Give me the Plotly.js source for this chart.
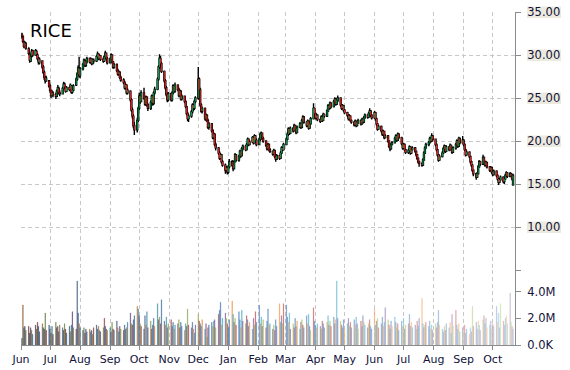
<!DOCTYPE html>
<html><head><meta charset="utf-8">
<script src="https://cdn.plot.ly/plotly-3.0.1.min.js"></script>
<style>html,body{margin:0;padding:0;background:#fff}#chart{width:570px;height:370px}</style>
</head><body><div id="chart"></div>
<script>
const symbol = 'RICE';
const firstTradingDay = '2014-06-02';

const openP = [
32.4,32.1,31.5,31.0,31.3, 30.7,30.1,29.3,29.9,30.5, 30.0,30.4,30.0,29.6,29.1, 29.3,28.6,28.0,27.4,27.0,
27.0,26.4,25.9,25.3,25.6, 25.4,25.2,25.8,26.1,25.6, 25.5,26.1,26.6,26.3,25.8, 26.2,26.0,26.4,25.7,25.9,
26.5,27.2,27.8,28.4,27.6, 28.4,28.9,29.3,28.8,29.2, 29.6,29.2,29.5,29.0,29.4, 29.3,29.8,30.1,29.6,29.9,
29.5,29.3,29.8,30.2,29.6, 29.1,29.5,30.0,29.2,28.6, 28.9,28.2,27.8,28.0,27.4, 27.1,26.8,26.2,26.5,25.6,
25.8,24.8,23.6,22.9,21.8, 21.3,22.4,23.8,25.2,24.6, 25.6,25.0,24.3,25.1,24.2, 23.8,24.5,25.2,24.4,25.6,
26.0,27.2,28.6,29.6,29.0, 28.1,27.0,26.2,25.4,24.8, 25.5,24.8,25.6,26.4,25.8, 26.5,26.0,25.3,25.8,24.9,
25.2,24.6,24.0,23.2,22.6, 22.9,23.4,24.2,23.8,24.6, 25.0,27.2,26.0,24.2,23.5, 23.8,22.6,23.0,22.4,21.6,
22.0,21.2,20.4,20.8,19.6, 19.2,18.6,18.0,18.4,17.6, 17.2,16.6,16.9,16.4,17.0, 17.6,17.2,16.8,17.6,18.4,
17.8,18.2,18.8,18.3,19.1, 19.4,19.0,19.6,20.2,19.6, 19.9,20.4,19.8,20.6,20.1, 19.6,20.2,20.8,20.9,20.3,
20.0,19.5,19.1,19.6,19.0, 18.8,18.5,18.9,18.2,17.9, 18.3,18.0,18.6,19.2,19.0, 19.6,20.2,20.8,21.4,20.9,
21.5,21.2,21.8,21.4,21.0, 21.6,22.0,21.6,22.4,22.8, 22.2,21.8,22.3,21.5,22.0, 22.6,23.8,23.2,22.7,23.0,
22.5,22.3,22.8,22.4,23.1, 22.9,23.5,24.1,23.8,24.4, 24.0,24.6,24.9,24.3,24.7, 25.0,24.2,23.8,24.1,23.6,
23.3,23.0,22.6,22.9,22.4, 22.2,21.9,22.3,21.8,22.1, 22.4,22.0,22.5,22.2,22.7, 23.0,22.8,23.2,23.5,23.0,
22.7,23.3,22.6,22.0,21.4, 21.7,21.2,20.8,21.1,20.4, 20.6,20.0,19.4,19.1,19.6, 19.8,20.3,20.6,20.1,20.8,
20.4,19.7,19.2,19.6,19.0, 18.7,18.9,19.3,18.6,19.0, 19.2,18.8,18.4,18.0,17.6, 17.4,17.2,17.8,18.6,19.2,
19.6,19.8,20.3,20.0,20.6, 20.2,19.6,19.0,18.4,17.8, 18.2,18.6,19.1,19.4,18.8, 19.3,19.0,19.5,19.1,18.7,
19.2,19.6,20.0,19.4,20.3, 19.8,20.1,19.6,19.0,18.4, 18.7,18.2,17.6,17.2,16.6, 16.2,15.8,16.2,17.0,17.6,
17.3,18.1,17.6,17.2,17.5, 17.0,16.6,16.9,16.4,16.1, 16.5,16.0,15.6,15.2,15.5, 15.8,15.3,15.6,16.0,16.3,
15.9,16.2,16.0,14.9];

const highP = [
32.6,32.3,31.7,31.6,31.5, 30.9,30.3,30.0,30.7,30.6, 30.7,30.6,30.2,29.8,29.7, 29.4,28.8,28.2,27.6,27.6,
27.1,26.6,26.0,25.9,25.8, 25.6,26.0,26.5,26.3,25.9, 26.3,26.9,26.8,26.4,26.4, 26.3,26.7,26.5,26.1,26.6,
27.4,28.0,28.8,29.8,28.6, 29.1,29.6,29.5,29.4,29.8, 29.7,29.7,29.6,29.6,29.6, 30.0,30.4,30.2,30.1,30.0,
29.7,30.0,30.5,30.3,29.8, 29.7,30.2,30.1,29.3,29.1, 29.0,28.4,28.2,28.1,27.6, 27.3,27.0,26.7,26.6,26.1,
25.9,25.0,23.9,23.1,22.2, 22.7,24.0,25.6,25.5,25.9, 26.2,25.1,25.3,25.2,24.4, 24.7,25.4,25.3,25.8,26.3,
27.4,28.8,30.1,29.9,29.2, 28.2,27.2,26.4,25.6,25.7, 25.6,25.8,26.6,26.5,26.8, 26.6,26.2,26.0,25.9,25.4,
25.3,24.7,24.1,23.4,23.1, 23.6,24.4,24.3,24.8,25.2, 28.6,27.4,26.2,24.4,24.0, 23.9,23.2,23.1,22.6,22.2,
22.1,21.4,21.0,20.9,19.8, 19.3,18.8,18.6,18.5,17.8, 17.4,17.1,17.0,17.2,17.9, 17.8,17.4,17.8,18.6,18.5,
18.4,19.0,18.9,19.3,19.6, 19.5,19.8,20.4,20.3,20.1, 20.6,20.5,20.8,20.7,20.3, 20.4,21.0,21.1,21.0,20.5,
20.1,19.7,19.8,19.7,19.2, 18.9,19.1,19.0,18.4,18.5, 18.4,18.8,19.4,19.3,19.8, 20.4,21.0,21.6,21.5,21.7,
21.6,22.0,21.9,21.5,21.8, 22.2,22.1,22.6,23.0,22.9, 22.3,22.5,22.4,22.2,22.8, 24.4,23.9,23.3,23.2,23.1,
22.6,23.0,22.9,23.3,23.2, 23.7,24.3,24.2,24.6,24.5, 24.8,25.1,25.0,24.9,25.3, 25.1,24.3,24.3,24.2,23.7,
23.4,23.1,23.1,23.0,22.5, 22.3,22.5,22.4,22.3,22.6, 22.5,22.7,22.6,22.9,23.2, 23.1,23.4,23.8,23.6,23.1,
23.5,23.4,22.7,22.1,21.9, 21.8,21.3,21.3,21.2,20.8, 20.7,20.1,19.5,19.8,20.0, 20.5,20.8,20.7,21.0,20.9,
20.5,19.8,19.8,19.7,19.1, 19.1,19.5,19.4,19.2,19.4, 19.3,18.9,18.5,18.1,17.7, 17.5,18.0,18.8,19.4,19.8,
20.0,20.5,20.4,20.9,20.7, 20.3,19.7,19.1,18.5,18.4, 18.8,19.3,19.6,19.5,19.5, 19.4,19.7,19.6,19.2,19.4,
19.8,20.2,20.1,20.5,20.4, 20.6,20.2,19.7,19.1,18.9, 18.8,18.3,17.7,17.3,16.7, 16.3,16.4,17.2,17.8,17.7,
18.4,18.2,17.7,17.7,17.6, 17.1,17.1,17.0,16.5,16.7, 16.6,16.1,15.7,15.7,16.0, 15.9,15.8,16.2,16.5,16.4,
16.4,16.3,16.1,16.2];

const lowP = [
31.9,31.4,30.8,30.9,30.6, 30.0,29.1,29.2,29.7,29.8, 29.9,29.9,29.4,28.9,28.9, 28.4,27.8,27.1,26.7,26.9,
26.2,25.6,25.0,25.2,25.1, 24.9,25.1,25.6,25.4,25.2, 25.4,26.0,26.1,25.6,25.7, 25.8,25.9,25.5,25.5,25.8,
26.4,27.0,27.6,27.4,27.3, 28.2,28.7,28.6,28.6,29.0, 29.0,29.0,28.8,28.9,29.0, 29.2,29.6,29.4,29.5,29.3,
29.1,29.2,29.7,29.4,28.9, 29.0,29.4,29.0,28.4,28.4, 28.0,27.6,27.6,27.2,26.9, 26.6,26.0,26.0,25.4,25.4,
24.6,23.4,22.6,21.5,20.7, 21.0,22.2,23.6,24.3,24.5, 24.8,24.1,24.1,24.0,23.5, 23.6,24.3,24.1,24.2,25.4,
25.9,27.0,28.4,28.7,27.9, 26.8,26.0,25.2,24.5,24.6, 24.6,24.6,25.4,25.6,25.6, 25.8,25.1,25.2,24.7,24.7,
24.4,23.8,23.0,22.3,22.2, 22.7,23.2,23.5,23.6,24.4, 24.8,25.8,24.0,23.3,23.2, 22.4,22.3,22.2,21.4,21.3,
21.0,20.2,20.2,19.4,18.9, 18.4,17.8,17.9,17.4,17.0, 16.2,16.4,16.1,16.2,16.8, 17.0,16.5,16.7,17.5,17.6,
17.6,18.0,18.1,18.2,18.9, 18.8,18.9,19.5,19.4,19.5, 19.8,19.6,19.7,19.9,19.4, 19.5,20.0,20.5,20.1,19.8,
19.3,18.9,19.0,18.8,18.6, 18.3,18.4,18.0,17.6,17.8, 17.8,17.9,18.5,18.8,18.9, 19.5,20.1,20.6,20.7,20.8,
21.0,21.1,21.2,20.8,20.9, 21.5,21.4,21.5,22.3,22.0, 21.6,21.7,21.3,21.4,21.9, 22.5,23.0,22.5,22.6,22.3,
22.1,22.2,22.2,22.3,22.7, 22.8,23.4,23.6,23.7,23.8, 23.9,24.5,24.1,24.2,24.5, 24.0,23.6,23.7,23.4,23.1,
22.8,22.4,22.5,22.2,22.0, 21.7,21.8,21.6,21.7,22.0, 21.8,21.9,22.0,22.1,22.6, 22.6,22.7,23.1,22.8,22.5,
22.6,22.4,21.8,21.2,21.3, 21.0,20.6,20.7,20.2,20.3, 19.8,19.2,18.8,19.0,19.5, 19.7,20.2,19.9,20.0,20.2,
19.5,19.0,19.1,18.8,18.5, 18.5,18.8,18.4,18.5,18.9, 18.6,18.2,17.8,17.4,17.0, 17.0,17.1,17.7,18.5,19.1,
19.4,19.7,19.8,19.9,20.0, 19.4,18.8,18.2,17.6,17.7, 18.1,18.5,19.0,18.6,18.7, 18.8,18.9,18.9,18.5,18.6,
19.0,19.5,19.2,19.3,19.6, 19.7,19.4,18.8,18.2,18.3, 18.0,17.4,17.0,16.4,15.9, 15.5,15.7,16.1,16.9,17.1,
17.2,17.4,17.0,17.1,16.8, 16.4,16.5,16.2,15.9,16.0, 15.8,15.4,14.9,15.1,15.4, 15.1,15.0,15.5,15.9,15.7,
15.8,15.8,15.4,14.8];

const closeP = [
32.2,31.6,31.0,31.4,30.8, 30.2,29.4,29.8,30.4,30.0, 30.5,30.1,29.6,29.2,29.5, 28.6,28.0,27.4,27.0,27.3,
26.4,25.9,25.3,25.6,25.4, 25.2,25.8,26.2,25.6,25.5, 26.1,26.6,26.3,25.8,26.2, 26.0,26.5,25.7,25.9,26.4,
27.2,27.8,28.5,27.6,28.4, 28.9,29.4,28.8,29.2,29.6, 29.2,29.5,29.0,29.4,29.3, 29.8,30.1,29.6,29.9,29.5,
29.3,29.8,30.2,29.6,29.1, 29.5,30.0,29.2,28.6,28.9, 28.2,27.8,28.0,27.4,27.1, 26.8,26.2,26.5,25.6,25.9,
24.8,23.6,22.9,21.8,21.3, 22.4,23.8,25.2,24.6,25.6, 25.0,24.3,25.1,24.2,23.8, 24.5,25.2,24.4,25.6,26.0,
27.2,28.6,29.6,29.0,28.1, 27.0,26.2,25.4,24.8,25.5, 24.8,25.6,26.4,25.8,26.5, 26.0,25.3,25.8,24.9,25.2,
24.6,24.0,23.2,22.6,22.9, 23.4,24.2,23.8,24.6,25.0, 27.2,26.0,24.2,23.5,23.8, 22.6,23.0,22.4,21.6,22.0,
21.2,20.4,20.8,19.6,19.2, 18.6,18.0,18.4,17.6,17.2, 16.6,16.9,16.4,17.0,17.6, 17.2,16.8,17.6,18.4,17.8,
18.2,18.8,18.3,19.1,19.4, 19.0,19.6,20.2,19.6,19.9, 20.4,19.8,20.6,20.1,19.6, 20.2,20.8,20.9,20.3,20.0,
19.5,19.1,19.6,19.0,18.8, 18.5,18.9,18.2,17.9,18.3, 18.0,18.6,19.2,19.0,19.6, 20.2,20.8,21.4,20.9,21.5,
21.2,21.8,21.4,21.0,21.6, 22.0,21.6,22.4,22.8,22.2, 21.8,22.3,21.5,22.0,22.6, 23.8,23.2,22.7,23.0,22.5,
22.3,22.8,22.4,23.1,22.9, 23.5,24.1,23.8,24.4,24.0, 24.6,24.9,24.3,24.7,25.0, 24.2,23.8,24.1,23.6,23.3,
23.0,22.6,22.9,22.4,22.2, 21.9,22.3,21.8,22.1,22.4, 22.0,22.5,22.2,22.7,23.0, 22.8,23.2,23.5,23.0,22.7,
23.3,22.6,22.0,21.4,21.7, 21.2,20.8,21.1,20.4,20.6, 20.0,19.4,19.1,19.6,19.8, 20.3,20.6,20.1,20.8,20.4,
19.7,19.2,19.6,19.0,18.7, 18.9,19.3,18.6,19.0,19.2, 18.8,18.4,18.0,17.6,17.4, 17.2,17.8,18.6,19.2,19.6,
19.8,20.3,20.0,20.6,20.2, 19.6,19.0,18.4,17.8,18.2, 18.6,19.1,19.4,18.8,19.3, 19.0,19.5,19.1,18.7,19.2,
19.6,20.0,19.4,20.3,19.8, 20.1,19.6,19.0,18.4,18.7, 18.2,17.6,17.2,16.6,16.2, 15.8,16.2,17.0,17.6,17.3,
18.1,17.6,17.2,17.5,17.0, 16.6,16.9,16.4,16.1,16.5, 16.0,15.6,15.2,15.5,15.8, 15.3,15.6,16.0,16.3,15.9,
16.2,16.0,15.6,16.0];

// volume in millions of shares
const volumeM = [
0.5,3.0,1.3,1.4,1.1, 1.4,0.9,1.3,1.1,0.8, 1.5,1.2,1.7,1.4,1.0, 1.6,1.3,1.2,2.4,1.1,
1.5,1.2,0.9,1.4,0.8, 1.7,1.3,1.4,1.0,1.5, 1.3,1.1,1.6,1.2,0.9, 1.4,1.0,1.5,2.5,1.3,
1.2,4.8,2.4,1.6,1.3, 1.1,1.3,0.9,1.2,1.0, 1.2,1.0,1.1,0.8,1.3, 1.5,1.2,1.4,1.1,1.0,
1.3,2.0,1.4,1.2,1.1, 1.3,1.0,1.7,1.2,1.1, 1.8,1.3,1.0,1.4,1.2, 1.1,1.5,1.2,1.3,1.7,
2.4,1.6,1.5,1.9,2.2, 2.9,2.7,2.2,1.6,1.4, 1.2,2.2,1.5,2.5,1.3, 1.8,1.2,1.5,2.0,1.4,
3.1,1.9,2.1,1.6,3.4, 1.8,1.5,2.1,1.3,1.6, 1.9,1.4,1.7,1.2,1.5, 1.6,1.9,1.3,1.7,1.4,
1.1,1.6,1.4,2.7,1.5, 1.3,1.7,1.2,0.9,1.5, 2.3,1.8,1.6,1.4,1.9, 1.2,1.6,0.6,1.3,1.5,
1.7,1.4,1.8,1.9,1.3, 2.3,2.6,3.2,1.5,2.0, 2.4,2.0,1.6,1.3,1.9, 3.3,2.3,1.7,2.0,1.5,
2.5,1.9,1.3,2.6,1.8, 1.6,2.2,1.9,1.4,1.7, 1.2,2.0,1.5,2.5,1.7, 3.0,1.6,2.1,1.4,1.9,
1.3,1.8,2.7,1.5,1.6, 1.2,1.5,1.1,1.9,1.4, 3.1,1.7,2.2,1.6,3.1, 3.0,2.1,1.7,2.4,1.2,
1.6,1.3,2.0,1.4,1.8, 1.2,1.7,1.9,1.5,1.3, 2.2,1.6,2.3,1.4,1.1, 2.8,1.8,1.5,1.3,1.6,
1.4,1.2,1.8,1.6,1.3, 1.7,2.2,1.5,1.8,1.4, 2.1,1.6,1.9,4.8,2.0, 1.8,1.5,1.3,1.9,1.2,
1.6,2.0,1.4,1.7,1.3, 1.9,1.5,2.1,1.6,1.2, 1.8,1.4,2.2,1.7,1.5, 1.3,1.6,1.9,1.4,1.2,
2.7,1.5,1.8,2.0,1.3, 1.6,2.1,1.4,1.7,2.8, 1.9,1.5,1.2,1.8,1.4, 2.1,1.7,1.3,1.6,1.1,
1.8,1.4,2.0,1.2,1.5, 1.6,2.3,1.4,1.7,1.3, 1.5,1.2,1.8,1.4,2.0, 3.5,1.6,1.3,1.5,1.7,
1.4,1.8,1.2,1.5,1.1, 1.6,1.3,1.7,2.6,1.5, 1.2,1.0,1.4,1.1,1.6, 1.3,1.7,0.9,2.3,1.4,
2.6,1.5,1.2,1.6,1.0, 1.3,1.1,1.5,0.9,1.2, 0.8,1.3,1.0,2.9,1.4, 1.7,1.2,1.8,1.5,1.1,
1.9,2.2,1.6,2.0,1.3, 1.5,1.8,1.2,1.6,1.4, 2.9,1.7,2.4,1.3,3.1, 1.8,1.5,2.0,2.2,1.6,
3.9,1.7,1.4,1.2];

const priceTickVals = [5, 10, 15, 20, 25, 30, 35];
const priceTickText = ['', '10.00', '15.00', '20.00', '25.00', '30.00', '35.00'];
const volTickVals = [0, 2, 4];
const volTickText = ['0.0K', '2.0M', '4.0M'];

// trading days (weekdays) starting from the first session
const dates = [];
{
  const d = new Date(firstTradingDay + 'T00:00:00Z');
  while (dates.length < closeP.length) {
    const wd = d.getUTCDay();
    if (wd !== 0 && wd !== 6) dates.push(d.toISOString().slice(0, 10));
    d.setUTCDate(d.getUTCDate() + 1);
  }
}

// style: office-like palette, darker early, lighter late
const palette = [[79,129,189],[192,80,77],[155,187,89],[128,100,162],[75,172,198],[247,150,70]];
function shade(c, t) { return c.map(v => t < 0 ? Math.round(v * (1 + t)) : Math.round(v + (255 - v) * t)); }
const volColors = volumeM.map((v, i) => {
  const t = -0.45 + 1.0 * i / (volumeM.length - 1);
  const c = shade(palette[(i * 5 + Math.floor(i / 7)) % 6], t);
  return 'rgb(' + c.join(',') + ')';
});

const bodyHigh = openP.map((o, i) => Math.max(o, closeP[i]));
const bodyLow = openP.map((o, i) => Math.min(o, closeP[i]));

const UP = '#00a651', DOWN = '#ff1a1a', WICK = '#000000';

const traces = [
  { type: 'candlestick', x: dates, open: openP, high: highP, low: lowP, close: closeP,
    xaxis: 'x', yaxis: 'y', whiskerwidth: 0,
    increasing: { line: { color: WICK, width: 1.4 }, fillcolor: WICK },
    decreasing: { line: { color: WICK, width: 1.4 }, fillcolor: WICK },
    hoverinfo: 'skip' },
  { type: 'candlestick', x: dates, open: openP, high: bodyHigh, low: bodyLow, close: closeP,
    xaxis: 'x', yaxis: 'y', whiskerwidth: 0,
    increasing: { line: { color: UP, width: 0 }, fillcolor: UP },
    decreasing: { line: { color: DOWN, width: 0 }, fillcolor: DOWN },
    hoverinfo: 'skip' },
  { type: 'bar', x: dates, y: volumeM, xaxis: 'x', yaxis: 'y2',
    marker: { color: volColors, line: { color: volColors, width: 0.3 } }, hoverinfo: 'skip' }
];

// geometry of plot area
const M = { l: 21, r: 55, t: 12, b: 25 };
const W = 570, H = 370;
const plotW = W - M.l - M.r, plotH = H - M.t - M.b;
const priceDomain = [0.225, 1];
const bgShapes = priceTickVals.filter((v, i) => priceTickText[i] !== '').map(v => {
  const yc = priceDomain[0] + (priceDomain[1] - priceDomain[0]) * (v - 5) / 30;
  return { type: 'rect', xref: 'paper', yref: 'paper', layer: 'below',
    x0: 1 + 12 / plotW, x1: 1 + 46 / plotW,
    y0: yc - 6 / plotH, y1: yc + 5.5 / plotH,
    fillcolor: '#eceadf', line: { width: 0 } };
});

const gridStyle = { gridcolor: '#c8c8c8', griddash: '4px,3px', gridwidth: 1 };
const layout = {
  width: W, height: H, margin: M,
  paper_bgcolor: '#ffffff', plot_bgcolor: 'rgba(0,0,0,0)',
  showlegend: false, boxgap: 0, boxgroupgap: 0, bargap: 0.35, boxmode: 'overlay',
  font: { family: 'DejaVu Sans, Verdana, sans-serif', size: 11.5, color: '#12123a' },
  xaxis: Object.assign({
    type: 'date', range: ['2014-06-01', '2015-10-24'], anchor: 'y2',
    rangeslider: { visible: false }, dtick: 'M1', tick0: '2014-06-01', tickformat: '%b',
    showgrid: true, showline: true, linecolor: '#8c8c8c', linewidth: 1,
    ticks: 'outside', ticklen: 4, tickcolor: '#8c8c8c', tickfont: { size: 11 }, zeroline: false
  }, gridStyle),
  yaxis: Object.assign({
    domain: priceDomain, range: [5, 35], side: 'right', anchor: 'x',
    tickmode: 'array', tickvals: priceTickVals, ticktext: priceTickText,
    showgrid: true, showline: true, linecolor: '#8c8c8c', linewidth: 1,
    ticks: 'outside', ticklen: 5, tickcolor: '#8c8c8c', ticklabelstandoff: 4, zeroline: false
  }, gridStyle),
  yaxis2: {
    domain: [0, 0.225], range: [0, 5.62], side: 'right', anchor: 'x',
    tickmode: 'array', tickvals: volTickVals, ticktext: volTickText,
    showgrid: false, showline: true, linecolor: '#8c8c8c', linewidth: 1,
    ticks: 'outside', ticklen: 5, tickcolor: '#8c8c8c', ticklabelstandoff: 4, zeroline: false
  },
  shapes: bgShapes,
  annotations: [{ text: symbol, xref: 'paper', yref: 'paper', x: 7 / plotW, y: 1 - 18 / plotH,
    xanchor: 'left', yanchor: 'middle', showarrow: false,
    font: { family: 'DejaVu Sans, Verdana, sans-serif', size: 18, color: '#000000' } }]
};

Plotly.newPlot('chart', traces, layout, { displayModeBar: false, staticPlot: true });
</script>
</body></html>
